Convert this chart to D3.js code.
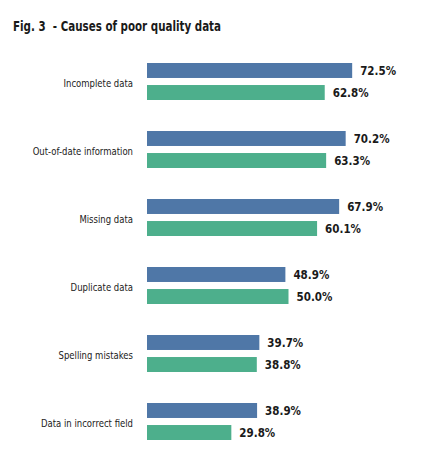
<!DOCTYPE html>
<html>
<head>
<meta charset="utf-8">
<script src="https://cdn.jsdelivr.net/npm/d3@7"></script>
<style>
  body { margin: 0; background: #fff; }
  svg { display: block; }
  text { font-family: "Liberation Sans Narrow", "DejaVu Sans Condensed", "Roboto Condensed", sans-serif; }
  .title { font-size: 14px; font-weight: bold; fill: #1a1a1a; white-space: pre; }
  .cat { font-size: 11px; fill: #222; }
  .val { font-size: 11.5px; font-weight: bold; fill: #1a1a1a; }
</style>
</head>
<body>
<div id="chart"></div>
<script>
var categories = ["Incomplete data", "Out-of-date information", "Missing data",
  "Duplicate data", "Spelling mistakes", "Data in incorrect field"];
var seriesNames = ["first", "second"];
var firstValues = [72.5, 70.2, 67.9, 48.9, 39.7, 38.9];
var secondValues = [62.8, 63.3, 60.1, 50.0, 38.8, 29.8];
var colors = ["#4f77a7", "#4daf8c"];

var width = 425, height = 465;
var catSqueeze = 0.86;

var svg = d3.select("#chart").append("svg")
  .attr("width", width)
  .attr("height", height);

svg.append("text")
  .attr("class", "title")
  .attr("x", 13)
  .attr("y", 31)
  .attr("textLength", 208)
  .attr("lengthAdjust", "spacingAndGlyphs")
  .text("Fig. 3  - Causes of poor quality data");

var x = d3.scaleLinear().domain([0, 100]).range([147, 147 + 283]);
var y = d3.scaleBand().domain(categories).range([60, 60 + 68 * categories.length]);
var ySub = d3.scaleBand().domain(seriesNames).range([3, 40]).paddingInner(0.32);

var rows = categories.map(function (c, i) {
  return { cat: c, values: [firstValues[i], secondValues[i]] };
});

var g = svg.selectAll(".row")
  .data(rows)
  .enter().append("g")
  .attr("class", "row")
  .attr("transform", function (d) { return "translate(0," + y(d.cat) + ")"; });

// labels are a bit narrower in the original, squeeze them horizontally
g.append("text")
  .attr("class", "cat")
  .attr("transform", "scale(" + catSqueeze + ",1)")
  .attr("x", 133 / catSqueeze)
  .attr("y", 23)
  .attr("dy", "0.35em")
  .attr("text-anchor", "end")
  .text(function (d) { return d.cat; });

var bars = g.selectAll(".bar")
  .data(function (d) {
    return d.values.map(function (v, j) { return { s: seriesNames[j], v: v, j: j }; });
  })
  .enter();

bars.append("rect")
  .attr("class", "bar")
  .attr("x", x(0))
  .attr("y", function (d) { return ySub(d.s); })
  .attr("width", function (d) { return x(d.v) - x(0); })
  .attr("height", ySub.bandwidth())
  .attr("fill", function (d) { return colors[d.j]; });

bars.append("text")
  .attr("class", "val")
  .attr("x", function (d) { return x(d.v) + 8; })
  .attr("y", function (d) { return ySub(d.s) + ySub.bandwidth() / 2; })
  .attr("dy", "0.36em")
  .text(function (d) { return d.v.toFixed(1) + "%"; });
</script>
</body>
</html>
